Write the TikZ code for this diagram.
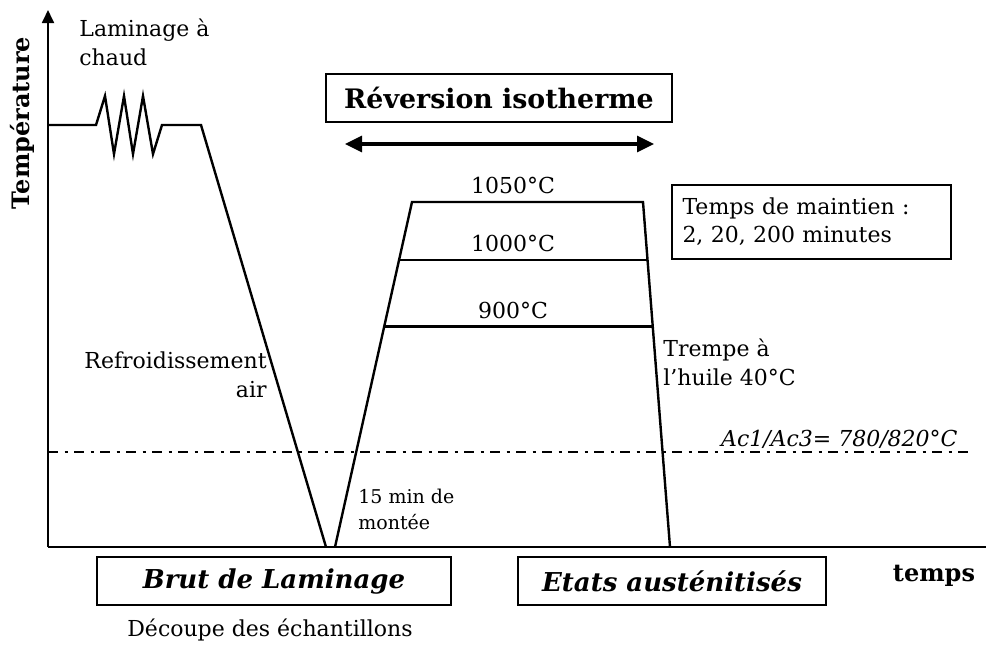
\documentclass[tikz,border=0pt]{standalone}
\usepackage{fontspec}
\setmainfont{DejaVu Serif}
\usetikzlibrary{arrows.meta,calc}

\begin{document}
\begin{tikzpicture}[x=0.5pt, y=-0.5pt,
    axe/.style={line width=0.9pt},
    courbe/.style={line width=1.2pt, line join=miter},
    cadre/.style={draw, line width=0.6pt, inner sep=0pt},
    txt/.style={font=\fontsize{11}{14.5}\selectfont, inner sep=0pt},
    petit/.style={font=\fontsize{9.5}{13}\selectfont, inner sep=0pt}]
  \useasboundingbox (0,0) rectangle (986,644);

  % axes
  \coordinate (O) at (48,547);
  \coordinate (ytop) at (48,10);
  \coordinate (xend) at (986,547);
  \draw[axe, -{Triangle[length=6.5pt, width=6pt]}] (O) -- (ytop);
  \draw[axe] (O) -- (xend);

  % laminage a chaud
  \coordinate (d0) at (48,125);
  \coordinate (z0) at (96,125);
  \coordinate (z1) at (105,96);
  \coordinate (z2) at (114,154);
  \coordinate (z3) at (124,96);
  \coordinate (z4) at (133,154);
  \coordinate (z5) at (143,96);
  \coordinate (z6) at (153,154);
  \coordinate (z7) at (162,125);
  \coordinate (f1) at (201,125);
  \coordinate (b1) at (326,547);
  \draw[courbe] (d0) -- (z0) -- (z1) -- (z2) -- (z3) -- (z4) -- (z5) -- (z6)
    -- (z7) -- (f1) -- (b1);

  % reversion
  \coordinate (b2) at (335,547);
  \coordinate (h1) at (412,202);
  \coordinate (h2) at (643,202);
  \coordinate (q1) at (670,547);
  \draw[courbe] (b2) -- (h1) -- (h2) -- (q1);
  \draw[courbe] ($(b2)!0.832!(h1)$) coordinate (m1) -- ($(h2)!0.168!(q1)$) coordinate (m2);
  \draw[courbe] ($(b2)!0.639!(h1)$) coordinate (n1) -- ($(h2)!0.361!(q1)$) coordinate (n2);

  \node[txt] (t1050) at (513,185) {1050°C};
  \node[txt] (t1000) at (513,243) {1000°C};
  \node[txt] (t900) at (513,310) {900°C};

  % Ac1/Ac3
  \coordinate (ac0) at (48,452);
  \coordinate (ac1) at (968,452);
  \draw[line width=1.2pt, dash pattern=on 5pt off 3.25pt on 1.5pt off 3.25pt] (ac0) -- (ac1);
  \node[txt, font=\fontsize{11}{14.5}\selectfont\itshape, anchor=east] (ac) at (958,439) {Ac1/Ac3= 780/820°C};

  % reversion isotherme
  \node[cadre, minimum width=173pt, minimum height=24pt,
        font=\fontsize{13.4}{16}\selectfont\bfseries] (rev) at (499,98) {Réversion isotherme};
  \coordinate (fl) at (345,144);
  \coordinate (fr) at (654,144);
  \draw[line width=1.6pt, {Triangle[length=8.5pt, width=8pt]}-{Triangle[length=8.5pt, width=8pt]}] (fl) -- (fr);

  % textes
  \node[txt, align=left, anchor=west] (lam) at (79,42.5) {Laminage à\\chaud};
  \node[txt, align=right, anchor=east] (refr) at (267,375) {Refroidissement\\air};
  \node[petit, align=left, anchor=west] (monte) at (358,509) {15 min de\\montée};
  \node[txt, align=left, anchor=west] (trempe) at (663,362) {Trempe à\\l’huile 40°C};
  \node[cadre, minimum width=139.5pt, minimum height=37pt, align=left,
        text width=129pt, font=\fontsize{11}{14}\selectfont] (maint) at (811.5,222)
        {Temps de maintien :\\2, 20, 200 minutes};

  % etats
  \node[cadre, minimum width=177pt, minimum height=24pt,
        font=\fontsize{13}{15}\selectfont\bfseries\itshape] (brut) at (274,581) {Brut de Laminage};
  \node[cadre, minimum width=154pt, minimum height=24pt,
        font=\fontsize{13}{15}\selectfont\bfseries\itshape] (aust) at (672,581) {Etats austénitisés};
  \node[txt] (dec) at (270,630) {Découpe des échantillons};
  \node[txt, font=\fontsize{12}{14}\selectfont\bfseries] (temps) at (934,576) {temps};
  \node[txt, font=\fontsize{12}{14}\selectfont\bfseries, rotate=90] (temp) at (22,123) {Température};
\end{tikzpicture}
\end{document}
